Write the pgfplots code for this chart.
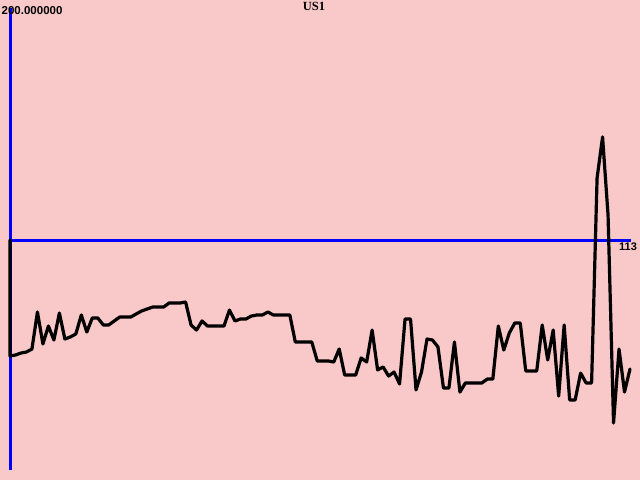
\documentclass[border=0pt]{standalone}
\usepackage{pgfplots}
\pgfplotsset{compat=1.18}
\usepackage{fontspec}
\setmainfont{Liberation Serif}
\newfontfamily\sansb{Liberation Sans}
\definecolor{bgpink}{RGB}{249,200,201}
\begin{document}
\begin{tikzpicture}[x=1pt,y=1pt]
\fill[bgpink] (0,0) rectangle (640,480);
\begin{axis}[at={(10pt,10pt)}, anchor=south west, scale only axis,
  width=620pt, height=460pt, xmin=0, xmax=113, ymin=-200, ymax=200,
  hide axis, clip=false]
\addplot[blue, line width=3pt] coordinates {(0,-200) (0,202)};
\addplot[blue, line width=3pt] coordinates {(0,0) (113.2,0)};
\addplot[black, line width=3.2pt, line join=round, line cap=round] table {
x y
0 0
0 -100.9
1 -100
2 -98.3
3 -97.4
4 -94.8
5 -62.6
6 -90.4
7 -74.8
8 -87
9 -63.5
10 -86.1
11 -84.3
12 -81.7
13 -65.2
14 -80
15 -67.8
16 -67.8
17 -73.9
18 -73.9
19 -70.4
20 -67
21 -67
22 -67
23 -64.3
24 -61.7
25 -60
26 -58.3
27 -58.3
28 -58.3
29 -54.8
30 -54.8
31 -54.8
32 -53.9
33 -73.9
34 -78.3
35 -70.4
36 -74.8
37 -74.8
38 -74.8
39 -74.8
40 -60.9
41 -70.4
42 -68.7
43 -68.7
44 -66.1
45 -65.2
46 -65.2
47 -62.6
48 -65.2
49 -65.2
50 -65.2
51 -65.2
52 -88.7
53 -88.7
54 -88.7
55 -88.7
56 -105.2
57 -105.2
58 -105.2
59 -106.1
60 -94.8
61 -117.4
62 -117.4
63 -117.4
64 -102.6
65 -106.1
66 -78.3
67 -113
68 -110.4
69 -118.3
70 -114.8
71 -125.2
72 -68.7
73 -68.7
74 -130.4
75 -114.8
76 -86.1
77 -87
78 -93
79 -128.7
80 -128.7
81 -88.7
82 -132.2
83 -124.3
84 -124.3
85 -124.3
86 -124.3
87 -120.9
88 -120.9
89 -74.8
90 -95.7
91 -80.9
92 -72.2
93 -72.2
94 -113.9
95 -113.9
96 -113.9
97 -73.9
98 -104.3
99 -78.3
100 -135.7
101 -73.9
102 -139.1
103 -139.1
104 -115.7
105 -124.3
106 -124.3
107 53.9
108 89.6
109 21.7
110 -159.1
111 -94.8
112 -132.2
113 -112.2
};
\end{axis}
\node[anchor=west, inner sep=0pt, font=\sansb\bfseries\fontsize{11.5pt}{12pt}\selectfont] at (1.5,469) {200.000000};
\node[anchor=west, inner sep=0pt, font=\sansb\bfseries\fontsize{11pt}{12pt}\selectfont] at (619,233.5) {113};
\node[inner sep=0pt, font=\bfseries\fontsize{12.5pt}{13pt}\selectfont] at (314,473.5) {US1};
\end{tikzpicture}
\end{document}
